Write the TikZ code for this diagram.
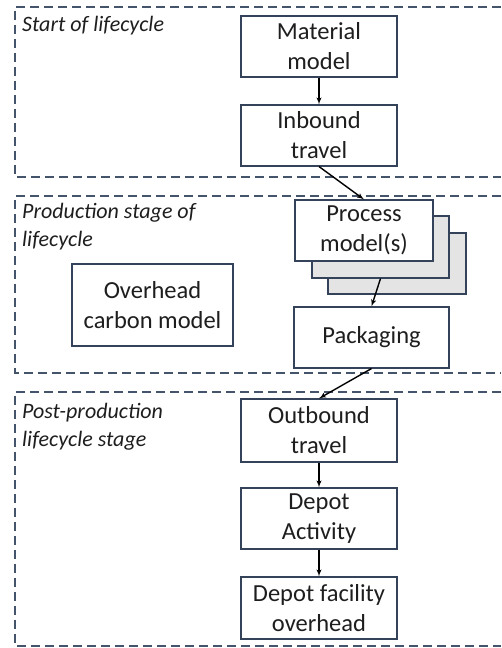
\documentclass[tikz,border=0pt]{standalone}
\usepackage{fontspec}
\setmainfont{Carlito}
\usetikzlibrary{arrows}
\definecolor{framecol}{HTML}{44546A}
\definecolor{boxcol}{HTML}{34425A}
\definecolor{shadecol}{HTML}{E4E4E4}
\definecolor{textcol}{HTML}{1E1E1E}

\begin{document}
\begin{tikzpicture}[x=1pt,y=-1pt]

\tikzset{block/.style = {shape=rectangle,draw=boxcol,line width=1.1pt,fill=white,text=textcol,align=center,inner sep=0pt,font=\fontsize{24.5}{30}\selectfont}}
\tikzset{stage/.style = {anchor=north west,align=left,inner sep=0pt,text=textcol,font=\fontsize{22}{28}\selectfont\itshape}}
\tikzset{frame/.style = {draw=framecol,line width=1.6pt,dash pattern=on 9pt off 5pt}}
\tikzset{edge/.style = {->,> = latex',line width=1.4pt,black}}
\useasboundingbox (0,0) rectangle (501,648);

%stage frames
\draw[frame] (501,7) -| (15,177) -- (501,177);
\draw[frame] (501,196) -| (15,373) -- (501,373);
\draw[frame] (501,392) -| (15,646) -- (501,646);
\node[stage] (s1) at (22,16.5) {Start of lifecycle};
\node[stage] (s2) at (22,203.5) {Production stage of\\lifecycle};
\node[stage] (s3) at (22,403.5) {Post-production\\lifecycle stage};

%blocks
\node[block, minimum width=156pt, minimum height=61pt] (material) at (319,46.5) {Material\\model};
\node[block, minimum width=156pt, minimum height=61pt] (inbound) at (319,135.5) {Inbound\\travel};
\node[block, fill=shadecol, minimum width=138pt, minimum height=61pt] (proc3) at (397,263.5) {};
\node[block, fill=shadecol, minimum width=137pt, minimum height=62pt] (proc2) at (380.5,247) {};
\node[block, minimum width=138pt, minimum height=61pt] (proc) at (364,230.5) {Process\\model(s)};
\node[block, minimum width=155pt, minimum height=61pt] (pack) at (371.5,337.5) {Packaging};
\node[block, minimum width=161pt, minimum height=82pt] (overhead) at (152.5,305) {Overhead\\carbon model};
\node[block, minimum width=156pt, minimum height=63pt] (outbound) at (319,430.5) {Outbound\\travel};
\node[block, minimum width=156pt, minimum height=61pt] (depot) at (319,518.5) {Depot\\Activity};
\node[block, minimum width=156pt, minimum height=62pt] (facility) at (319,608) {Depot facility\\overhead};

%flows
\draw [edge] (material) -- (inbound);
\draw [edge] (inbound.south) -- (proc.north);
\draw [edge] (proc2.south) -- (pack.north);
\draw [edge] (pack.south) -- (outbound.north);
\draw [edge] (outbound) -- (depot);
\draw [edge] (depot) -- (facility);

\end{tikzpicture}
\end{document}
